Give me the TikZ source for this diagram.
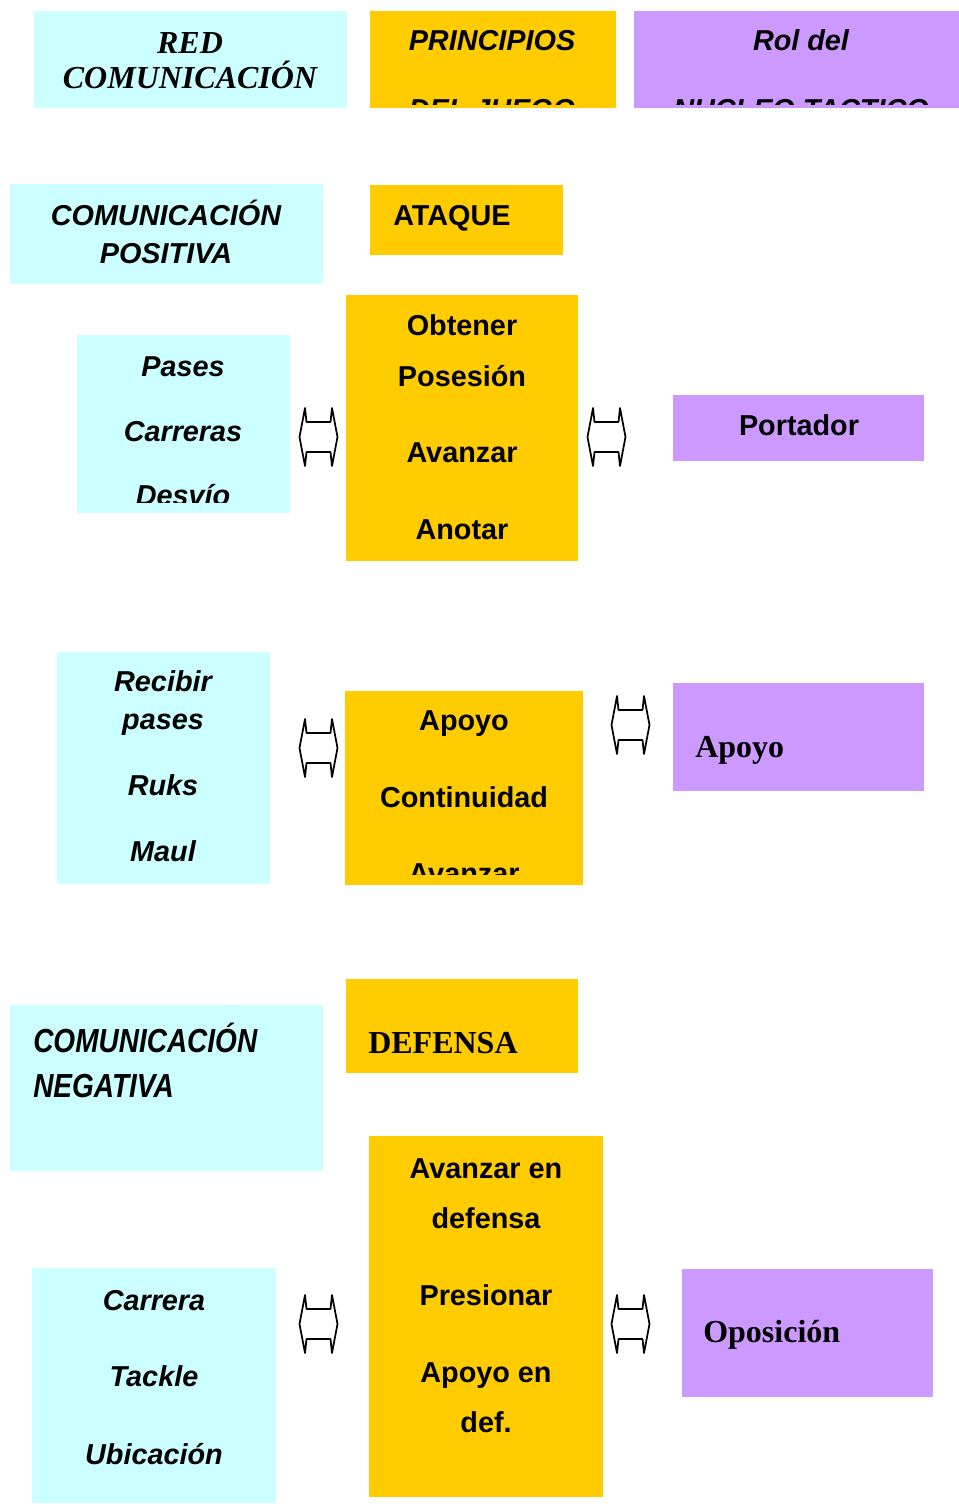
\documentclass[tikz,border=0pt]{standalone}
\usepackage{fontspec}
\setmainfont{Liberation Sans}
\newfontfamily\seriffam{Liberation Serif}
\newfontfamily\narrowfam[FakeStretch=0.84]{Liberation Sans}
\usetikzlibrary{fit}

\definecolor{cyanfill}{HTML}{CCFFFF}
\definecolor{yellowfill}{HTML}{FFCC00}
\definecolor{purplefill}{HTML}{CC99FF}

\tikzset{
  dblarrow/.pic={
    \draw[line width=1.3pt, line join=round]
      (-19,0) -- (-13.5,-29) -- (-12,-15) -- (12,-15) -- (13.5,-29) -- (19,0)
      -- (13.5,29) -- (12,15) -- (-12,15) -- (-13.5,29) -- cycle;
  }
}

\begin{document}
\begin{tikzpicture}[x=0.75pt, y=-0.75pt,
    cbox/.style={fill=cyanfill, inner sep=0pt},
    ybox/.style={fill=yellowfill, inner sep=0pt},
    pbox/.style={fill=purplefill, inner sep=0pt},
    txt/.style={anchor=base, inner sep=0pt, font=\fontsize{21.6}{25}\selectfont\bfseries},
    txti/.style={txt, font=\fontsize{21.6}{25}\selectfont\bfseries\itshape},
    txts/.style={anchor=base west, inner sep=0pt, font=\fontsize{24}{28}\selectfont\seriffam\bfseries},
    txtn/.style={anchor=base west, inner sep=0pt, font=\fontsize{25}{28}\selectfont\narrowfam\bfseries\itshape}]

    \useasboundingbox (0,0) rectangle (959,1504);

    % cajas
    \node[cbox, fit={(34,11) (347,108)}] (red) {};
    \node[ybox, fit={(370,11) (616,108)}] (princ) {};
    \node[pbox, fit={(634,11) (959,108)}] (rol) {};
    \node[cbox, fit={(10,184) (323,284)}] (pos) {};
    \node[ybox, fit={(370,185) (563,255)}] (ataque) {};
    \node[cbox, fit={(77,335) (290,513)}] (pases) {};
    \node[ybox, fit={(346,295) (578,561)}] (obtener) {};
    \node[pbox, fit={(673,395) (924,461)}] (portador) {};
    \node[cbox, fit={(57,652) (270,884)}] (recibir) {};
    \node[ybox, fit={(345,691) (583,885)}] (apoyoa) {};
    \node[pbox, fit={(673,683) (924,791)}] (apoyob) {};
    \node[cbox, fit={(10,1005) (323,1171)}] (neg) {};
    \node[ybox, fit={(346,979) (578,1073)}] (defensa) {};
    \node[ybox, fit={(369,1136) (603,1497)}] (avanzar) {};
    \node[cbox, fit={(32,1268) (276,1503)}] (carrera) {};
    \node[pbox, fit={(682,1269) (933,1397)}] (oposicion) {};

    % titulos
    \node[anchor=base, inner sep=0pt, font=\fontsize{24}{28}\selectfont\seriffam\bfseries\itshape] (red1) at (190,53) {RED};
    \node[anchor=base, inner sep=0pt, font=\fontsize{24}{28}\selectfont\seriffam\bfseries\itshape] (red2) at (190,88) {COMUNICACIÓN};
    \node[txti] (princ1) at (492,50) {PRINCIPIOS};
    \begin{scope}
        \clip (princ.north west) rectangle (616,104);
        \node[txti] (princ2) at (492,119) {DEL JUEGO};
    \end{scope}
    \node[txti] (rol1) at (801,50) {Rol del};
    \begin{scope}
        \clip (rol.north west) rectangle (959,104);
        \node[txti] (rol2) at (801,119) {NUCLEO TACTICO};
    \end{scope}

    % ataque
    \node[txti] (pos1) at (166,225) {COMUNICACIÓN};
    \node[txti] (pos2) at (166,263) {POSITIVA};
    \node[txt, anchor=base west] (ataque1) at (393,225) {ATAQUE};

    \node[txti] (pases1) at (183,376) {Pases};
    \node[txti] (pases2) at (183,441) {Carreras};
    \begin{scope}
        \clip (pases.north west) rectangle (290,502);
        \node[txti] (pases3) at (183,505) {Desvío};
    \end{scope}
    \node[txt] (obt1) at (462,335) {Obtener};
    \node[txt] (obt2) at (462,386) {Posesión};
    \node[txt] (obt3) at (462,462) {Avanzar};
    \node[txt] (obt4) at (462,539) {Anotar};
    \node[txt] (port1) at (799,435) {Portador};

    \node[txti] (rec1) at (163,691) {Recibir};
    \node[txti] (rec2) at (163,729) {pases};
    \node[txti] (rec3) at (163,795) {Ruks};
    \node[txti] (rec4) at (163,861) {Maul};
    \node[txt] (apa1) at (464,730) {Apoyo};
    \node[txt] (apa2) at (464,807) {Continuidad};
    \begin{scope}
        \clip (apoyoa.north west) rectangle (583,874);
        \node[txt] (apa3) at (464,883) {Avanzar};
    \end{scope}
    \node[txts] (apb1) at (695,757) {Apoyo};

    % defensa
    \node[txtn] (neg1) at (33,1052) {COMUNICACIÓN};
    \node[txtn] (neg2) at (33,1097) {NEGATIVA};
    \node[txts] (def1) at (368,1053) {DEFENSA};

    \node[txt] (av1) at (486,1178) {Avanzar en};
    \node[txt] (av2) at (486,1228) {defensa};
    \node[txt] (av3) at (486,1305) {Presionar};
    \node[txt] (av4) at (486,1382) {Apoyo en};
    \node[txt] (av5) at (486,1432) {def.};
    \node[txti] (car1) at (154,1310) {Carrera};
    \node[txti] (car2) at (154,1386) {Tackle};
    \node[txti] (car3) at (154,1464) {Ubicación};
    \node[txts] (opo1) at (703,1342) {Oposición};

    % flechas dobles
    \pic (ar1) at (318.5,437) {dblarrow};
    \pic (ar2) at (606.5,437) {dblarrow};
    \pic (ar3) at (318.5,748) {dblarrow};
    \pic (ar4) at (630.5,725) {dblarrow};
    \pic (ar5) at (318.5,1324) {dblarrow};
    \pic (ar6) at (630.5,1324) {dblarrow};
\end{tikzpicture}
\end{document}
